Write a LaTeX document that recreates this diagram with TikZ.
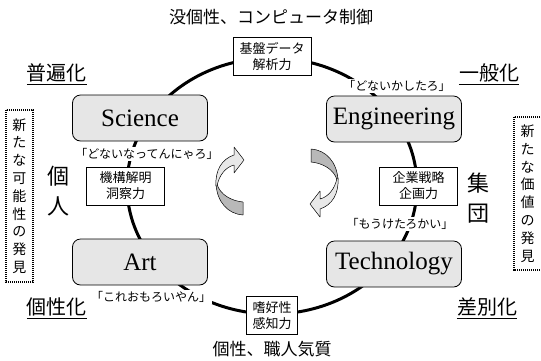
\documentclass[tikz,border=0pt]{standalone}
\usepackage{fontspec}
\setmainfont{Liberation Serif}
\newfontfamily\jp{Noto Sans CJK JP}
\usetikzlibrary{shapes.geometric}
\definecolor{boxgray}{HTML}{E6E6E6}
\definecolor{arrlight}{HTML}{E8E8E8}
\definecolor{arrdark}{HTML}{B8B8B8}
\begin{document}
\begin{tikzpicture}[x=1pt,y=-1pt,
  bigbox/.style={draw, rounded corners=8pt, fill=boxgray, minimum width=135pt, minimum height=46pt, line width=0.8pt, font=\fontsize{25}{30}\selectfont, inner sep=0pt},
  smallbox/.style={draw, fill=white, align=center, line width=0.8pt, font=\jp\fontsize{13}{16}\selectfont, inner xsep=6pt, inner ysep=4pt, minimum height=38pt},
  quote/.style={fill=white, font=\jp\fontsize{12}{14}\selectfont, inner sep=1pt},
  corner/.style={font=\jp\fontsize{20}{24}\selectfont, inner xsep=0pt, inner ysep=2pt},
  uline/.style={line width=1.3pt},
  heading/.style={font=\jp\fontsize{17}{20}\selectfont},
  vbig/.style={font=\jp\fontsize{22}{30}\selectfont, align=center},
  vframe/.style={dash pattern=on 1.4pt off 0.6pt, line width=1.7pt},
  vtext/.style={align=center, font=\jp\fontsize{14}{17.8}\selectfont, inner sep=0pt},
  ribbon/.style={draw=black, line width=0.5pt, line join=round}
]
\useasboundingbox (0,0) rectangle (541,360);
\clip (0,0) rectangle (541,360);

% cycle loop
\node[draw, ellipse, line width=3pt, minimum width=290pt, minimum height=256pt, inner sep=0pt] (loop) at (272,186) {};

% headings
\node[heading] (top) at (271,17) {没個性、コンピュータ制御};
\node[heading] (bottom) at (272,349) {個性、職人気質};

% small boxes on the loop
\node[smallbox, minimum width=78pt] (kiban) at (loop.north) {基盤データ\\解析力};
\node[smallbox, minimum width=78pt] (kikou) at (loop.west) {機構解明\\洞察力};
\node[smallbox, minimum width=78pt] (kigyo) at (loop.east) {企業戦略\\企画力};
\node[smallbox] (shikou) at (loop.south) {嗜好性\\感知力};

% quotes
\node[quote] (q1) at (397,86) {「どないかしたろ」};
\node[quote] (q2) at (147,154) {「どないなってんにゃろ」};
\node[quote] (q3) at (400,224) {「もうけたろかい」};
\node[quote] (q4) at (151,297) {「これおもろいやん」};

% main boxes
\node[bigbox] (sci) at (140,118) {Science};
\node[bigbox] (eng) at (394,119) {Engineering};
\node[bigbox] (art) at (140,262) {Art};
\node[bigbox] (tec) at (394,264) {Technology};

% corner labels
\node[corner] (fuhen) at (57,73) {普遍化};
\node[corner] (ippan) at (489,73) {一般化};
\node[corner] (kosei) at (57,307) {個性化};
\node[corner] (sabetsu) at (487,307) {差別化};
\foreach \n in {fuhen,ippan,kosei,sabetsu}
  \draw[uline] (\n.south west) -- (\n.south east);

% individual / group
\node[vbig] (kojin) at (58,191) {個\\人};
\node[vbig] (shudan) at (478,198) {集\\団};

% dotted side boxes
\draw[vframe] (6,110) rectangle (33,282);
\node[vtext] (kanou) at (19.5,196) {新\\た\\な\\可\\能\\性\\の\\発\\見};
\draw[vframe] (514,117) rectangle (565,270);
\node[vtext] (kachi) at (527.5,193.5) {新\\た\\な\\価\\値\\の\\発\\見};

% circular arrows
\newcommand\ribbonarrow{%
  \fill[arrdark] (216,184) .. controls (217,202) and (228,214) .. (243,215) -- (243,202) .. controls (232,201) and (220,195) .. (217,184) -- cycle;
  \draw[ribbon] (216,184) .. controls (217,202) and (228,214) .. (243,215) -- (243,202) .. controls (232,201) and (220,195) .. (217,184);
  \filldraw[ribbon, fill=arrlight] (216,186) .. controls (215,170) and (222,159) .. (234,155) -- (234,147) -- (244,160) -- (234,173) -- (234,165) .. controls (226,167) and (219,175) .. (217,186) -- cycle;
}
\ribbonarrow
\begin{scope}[rotate around={180:(277,182)}]
\ribbonarrow
\end{scope}
\end{tikzpicture}
\end{document}
